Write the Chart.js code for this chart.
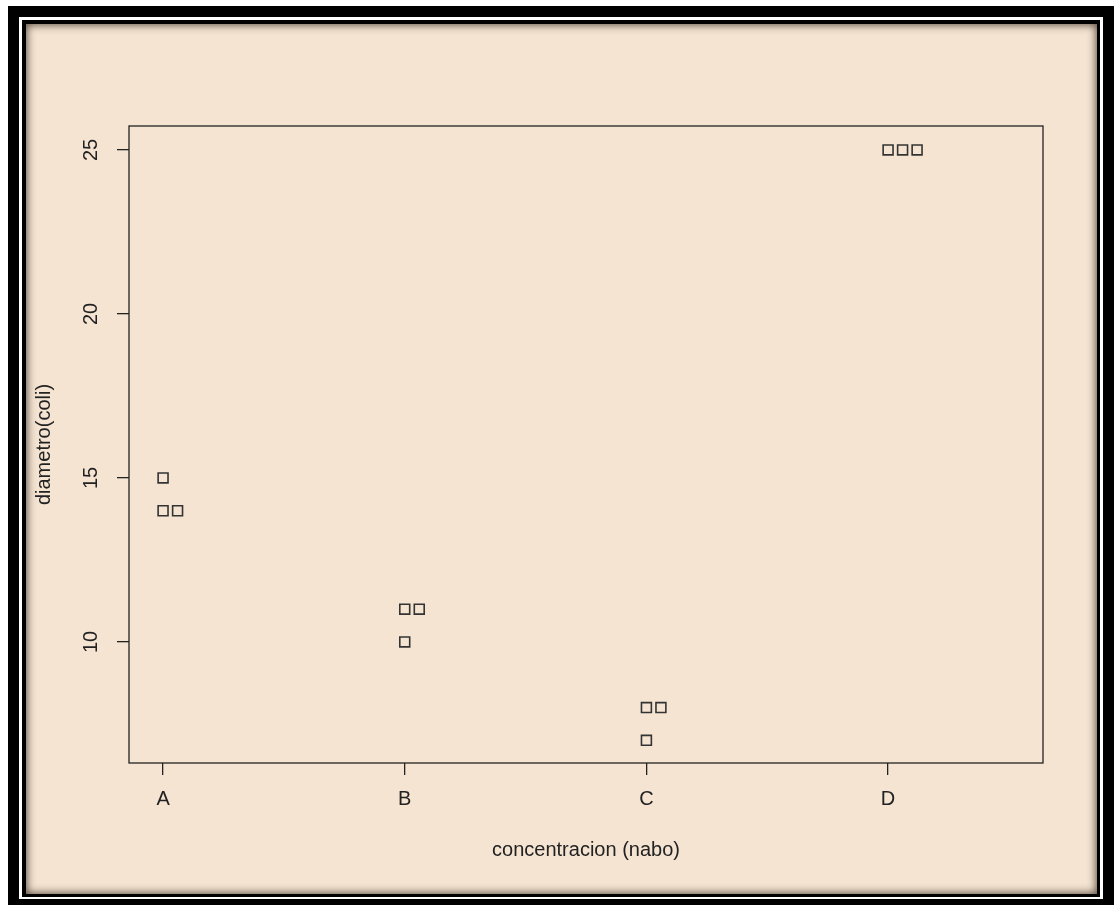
<!DOCTYPE html>
<html>
<head>
<meta charset="utf-8">
<title>diametro(coli) vs concentracion (nabo)</title>
<script src="https://cdn.jsdelivr.net/npm/chart.js@4/dist/chart.umd.min.js"></script>
<style>
  html, body { margin: 0; padding: 0; background: #ffffff; }
  #stage { position: relative; width: 1114px; height: 905px; overflow: hidden; background: #ffffff; }
  .layer { position: absolute; }
  #outer { left: 8px; top: 6px; width: 1106px; height: 899px; background: #000; }
  #gap { left: 19px; top: 17px; width: 1084px; height: 882px; background: #fff; }
  #inner { left: 22px; top: 20px; width: 1078px; height: 877px; background: #000; }
  #panel { left: 26px; top: 24px; width: 1071px; height: 870px; background: #F5E4D2;
           box-shadow: inset 0 0 9px 1px rgba(60, 48, 36, 0.85); }
  #plot { position: absolute; left: 0; top: 0; }
</style>
</head>
<body>
<div id="stage">
  <div class="layer" id="outer"></div>
  <div class="layer" id="gap"></div>
  <div class="layer" id="inner"></div>
  <div class="layer" id="panel"></div>
  <canvas id="plot" width="1114" height="905"></canvas>
</div>
<script>
// Observations: concentration group and measured diameter
const categories = ['A', 'B', 'C', 'D'];
const grupo    = ['A', 'A', 'A', 'B', 'B', 'B', 'C', 'C', 'C', 'D', 'D', 'D'];
const diametro = [15, 14, 14, 11, 11, 10, 8, 8, 7, 25, 25, 25];
const yTicks   = [10, 15, 20, 25];

// Stacked strip chart: repeated values within a group are shifted sideways
const stackOffset = 0.06;
const seen = {};
const points = grupo.map((g, i) => {
  const key = g + ':' + diametro[i];
  const k = seen[key] || 0;
  seen[key] = k + 1;
  return { x: categories.indexOf(g) + 1 + k * stackOffset, y: diametro[i] };
});

const ink = '#222222';
const fontSpec = { family: "'Liberation Sans', Arial, sans-serif", size: 20 };

// Full box around the plotting region
const boxPlugin = {
  id: 'plotBox',
  afterDraw(chart) {
    const { ctx, chartArea: a } = chart;
    ctx.save();
    ctx.strokeStyle = ink;
    ctx.lineWidth = 1.3;
    ctx.strokeRect(a.left, a.top, a.right - a.left, a.bottom - a.top);
    ctx.restore();
  }
};

new Chart(document.getElementById('plot'), {
  type: 'scatter',
  data: {
    datasets: [{
      data: points,
      pointStyle: 'rect',
      pointRadius: 7,
      pointHoverRadius: 7,
      pointBorderWidth: 1.6,
      pointBorderColor: '#333333',
      pointBackgroundColor: 'rgba(0,0,0,0)'
    }]
  },
  plugins: [boxPlugin],
  options: {
    responsive: false,
    animation: false,
    events: [],
    layout: { padding: { left: 0, top: 126, right: 71, bottom: 0 } },
    plugins: { legend: { display: false }, tooltip: { enabled: false } },
    scales: {
      x: {
        type: 'linear',
        min: 0.859,
        max: 4.641,
        afterBuildTicks: s => { s.ticks = categories.map((c, i) => ({ value: i + 1 })); },
        afterFit: s => { s.height = 142; },
        border: { display: false },
        grid: { drawOnChartArea: false, drawTicks: true, tickLength: 12, color: ink, lineWidth: 1.3 },
        ticks: {
          padding: 12,
          color: ink,
          font: fontSpec,
          maxRotation: 0,
          minRotation: 0,
          callback: v => categories[Math.round(v) - 1]
        },
        title: {
          display: true,
          text: 'concentracion (nabo)',
          color: ink,
          font: fontSpec,
          padding: { top: 0, bottom: 43 }
        }
      },
      y: {
        type: 'linear',
        min: 6.31,
        max: 25.73,
        afterBuildTicks: s => { s.ticks = yTicks.map(v => ({ value: v })); },
        afterFit: s => { s.width = 129; },
        border: { display: false },
        grid: { drawOnChartArea: false, drawTicks: true, tickLength: 12, color: ink, lineWidth: 1.3 },
        ticks: {
          padding: 14,
          crossAlign: 'center',
          minRotation: 90,
          maxRotation: 90,
          color: ink,
          font: fontSpec,
          callback: v => String(v)
        },
        title: {
          display: true,
          text: 'diametro(coli)',
          color: ink,
          font: fontSpec,
          padding: { top: 32, bottom: 0 }
        }
      }
    }
  }
});
</script>
</body>
</html>
